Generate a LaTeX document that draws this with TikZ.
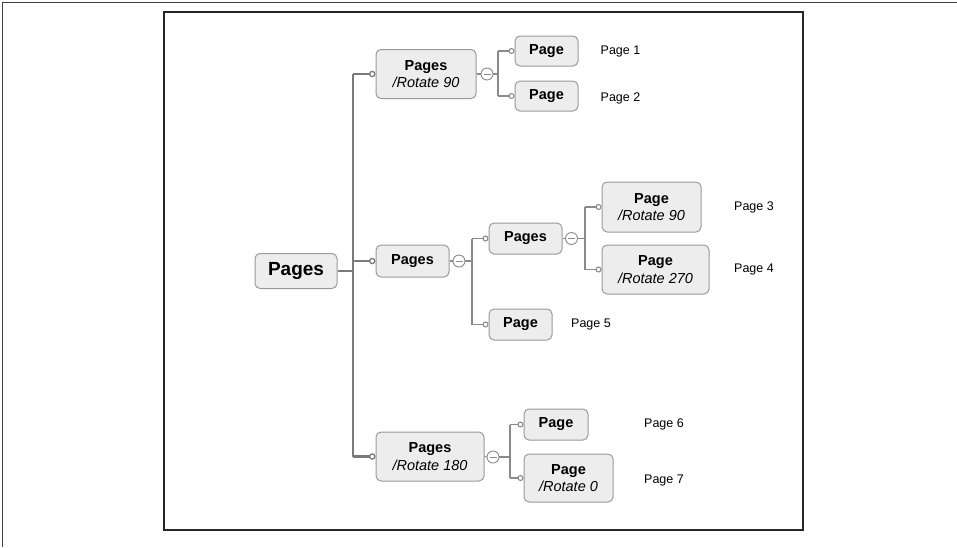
\documentclass[tikz,border=0pt]{standalone}
\usepackage{fontspec}
\setmainfont{Liberation Sans}
\usetikzlibrary{arrows.meta}
\definecolor{boxfill}{HTML}{EDEDED}
\definecolor{boxline}{HTML}{9A9A9A}
\definecolor{linegray}{HTML}{8A8A8A}
\definecolor{trunkgray}{HTML}{7A7A7A}
\begin{document}
\begin{tikzpicture}[x=1pt,y=-1pt,
  box/.style={draw=boxline, fill=boxfill, rounded corners=5pt, line width=1pt,
    inner sep=0pt, align=center, font=\fontsize{14.5}{17.5}\selectfont},
  note/.style={font=\fontsize{12.5}{14}\selectfont, inner sep=0pt},
  trunk/.style={draw=trunkgray, line width=2.4pt},
  twig/.style={draw=linegray, line width=1.1pt},
  knob/.style={-{Circle[open,length=6.5pt,width=6.5pt,line width=1.3pt]}},
  smallknob/.style={-{Circle[open,length=6pt,width=6pt,line width=1.1pt]}},
  collapse/.style={circle, draw=linegray, fill=white, line width=0.9pt,
    minimum size=12pt, inner sep=0pt,
    path picture={\draw[linegray, line width=0.9pt]
      ([xshift=-3.5pt]path picture bounding box.center) --
      ([xshift=3.5pt]path picture bounding box.center);}}
]
\useasboundingbox (0,0) rectangle (957,547);

% outer and inner frames
\draw[draw=black!75, line width=1pt] (2,547) -- (2,2) -- (957,2);
\draw[draw=black!85, line width=1.3pt] (164,12) rectangle (803,530);

% root
\node[box, minimum width=82pt, minimum height=35pt,
  font=\fontsize{19}{22}\selectfont\bfseries] (root) at (296,271) {Pages};

% first level
\node[box, minimum width=100pt, minimum height=49pt] (A) at (426,74)
  {\textbf{Pages}\\\textit{/Rotate 90}};
\node[box, minimum width=73pt, minimum height=32pt] (B) at (412.5,261)
  {\textbf{Pages}};
\node[box, minimum width=108pt, minimum height=49pt] (C) at (430,456.5)
  {\textbf{Pages}\\\textit{/Rotate 180}};

% children of A
\node[box, minimum width=63pt, minimum height=30pt] (A1) at (546.5,51) {\textbf{Page}};
\node[box, minimum width=63pt, minimum height=30pt] (A2) at (546.5,96) {\textbf{Page}};
% children of B
\node[box, minimum width=73pt, minimum height=31pt] (B1) at (525.5,238.5) {\textbf{Pages}};
\node[box, minimum width=63pt, minimum height=31pt] (B2) at (520.5,324.5) {\textbf{Page}};
\node[box, minimum width=99pt, minimum height=50pt] (B1a) at (651.5,207)
  {\textbf{Page}\\\textit{/Rotate 90}};
\node[box, minimum width=107pt, minimum height=49pt] (B1b) at (655.5,269.5)
  {\textbf{Page}\\\textit{/Rotate 270}};
% children of C
\node[box, minimum width=64pt, minimum height=31pt] (C1) at (556,424.5) {\textbf{Page}};
\node[box, minimum width=89pt, minimum height=48pt] (C2) at (568.5,478)
  {\textbf{Page}\\\textit{/Rotate 0}};

% labels
\node[note] (l1) at (620.5,51) {Page 1};
\node[note] (l2) at (620.5,98) {Page 2};
\node[note] (l3) at (754,207) {Page 3};
\node[note] (l4) at (754,269) {Page 4};
\node[note] (l5) at (591,324) {Page 5};
\node[note] (l6) at (664,424) {Page 6};
\node[note] (l7) at (664,480) {Page 7};

% trunk from the root
\coordinate (tr) at (353,271);
\draw[trunk] (root.east) -- (tr);
\draw[trunk] (tr |- A.west) -- (tr |- C.west);
\draw[trunk, knob] (tr |- A.west) -- (A.west);
\draw[trunk, knob] (tr |- B.west) -- (B.west);
\draw[trunk, knob] (tr |- C.west) -- (C.west);

% collapse handles
\node[collapse] (Ax) at (487,74) {};
\node[collapse] (Bx) at (459,261) {};
\node[collapse] (B1x) at (571.5,238.5) {};
\node[collapse] (Cx) at (493,457) {};
\draw[twig] (A.east) -- (Ax.west);
\draw[twig] (B.east) -- (Bx.west);
\draw[twig] (B1.east) -- (B1x.west);
\draw[twig] (C.east) -- (Cx.west);

% branches of A
\coordinate (ta) at (498,74);
\draw[twig] (Ax.east) -- (ta);
\draw[twig] (ta |- A1.west) -- (ta |- A2.west);
\draw[twig, smallknob] (ta |- A1.west) -- (A1.west);
\draw[twig, smallknob] (ta |- A2.west) -- (A2.west);

% branches of B
\coordinate (tb) at (472,261);
\draw[twig] (Bx.east) -- (tb);
\draw[twig] (tb |- B1.west) -- (tb |- B2.west);
\draw[twig, smallknob] (tb |- B1.west) -- (B1.west);
\draw[twig, smallknob] (tb |- B2.west) -- (B2.west);

% branches of B1
\coordinate (tb1) at (585,238.5);
\draw[twig] (B1x.east) -- (tb1);
\draw[twig] (tb1 |- B1a.west) -- (tb1 |- B1b.west);
\draw[twig, smallknob] (tb1 |- B1a.west) -- (B1a.west);
\draw[twig, smallknob] (tb1 |- B1b.west) -- (B1b.west);

% branches of C
\coordinate (tc) at (510,457);
\draw[twig] (Cx.east) -- (tc);
\draw[twig] (tc |- C1.west) -- (tc |- C2.west);
\draw[twig, smallknob] (tc |- C1.west) -- (C1.west);
\draw[twig, smallknob] (tc |- C2.west) -- (C2.west);
\end{tikzpicture}
\end{document}
